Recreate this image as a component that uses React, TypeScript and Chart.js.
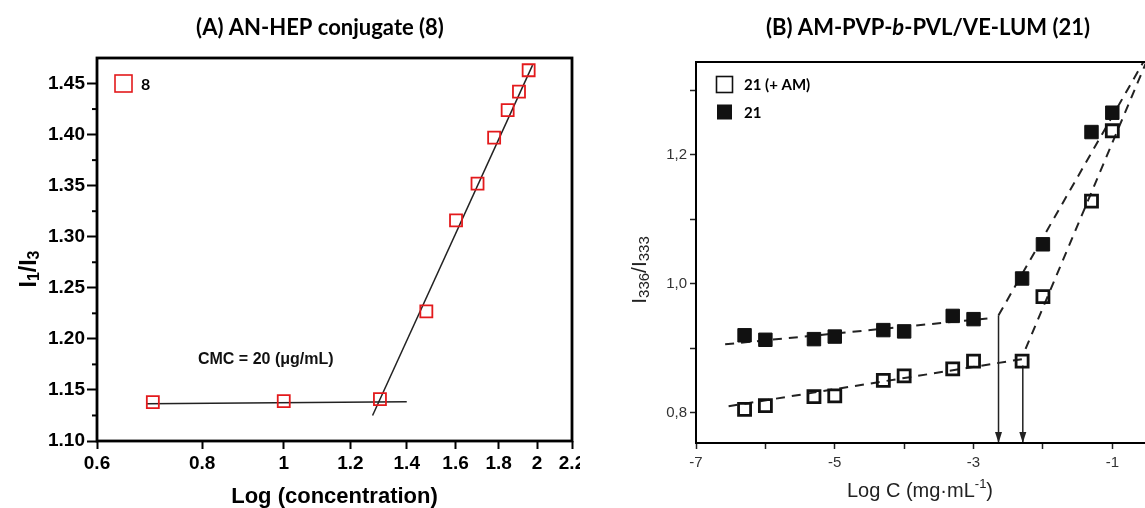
import React, { useEffect, useRef } from 'react';
import { Chart, registerables } from 'chart.js';

Chart.register(...registerables);

const ARIAL = '"Liberation Sans", Arial, sans-serif';
const CALIBRI = 'Lato, "Open Sans", sans-serif';

// ---------------- Panel A data ----------------
const aLogConc = [0.699, 1.0, 1.301, 1.477, 1.602, 1.699, 1.778, 1.845, 1.903, 1.954];
const aRatio = [1.138, 1.139, 1.141, 1.227, 1.316, 1.352, 1.397, 1.424, 1.442, 1.463];
const aFlatFitX = [0.688, 1.4];
const aFlatFitY = [1.1365, 1.1385];
const aSteepFitX = [1.275, 1.975];
const aSteepFitY = [1.125, 1.468];
const aXTicks = [0.6, 0.8, 1, 1.2, 1.4, 1.6, 1.8, 2, 2.2];
const aXLabels = ['0.6', '0.8', '1', '1.2', '1.4', '1.6', '1.8', '2', '2.2'];
const aYTicks = [1.1, 1.125, 1.15, 1.175, 1.2, 1.225, 1.25, 1.275, 1.3, 1.325, 1.35, 1.375, 1.4, 1.425, 1.45];
const aYLabels = ['1.10', '', '1.15', '', '1.20', '', '1.25', '', '1.30', '', '1.35', '', '1.40', '', '1.45'];
const aNote = { text: 'CMC = 20 (\u03bcg/mL)', x: 0.952, y: 1.18 };

// ---------------- Panel B data ----------------
const bLogC = [-6.3, -6, -5.3, -5, -4.3, -4, -3.3, -3, -2.3, -2, -1.3, -1];
const b21 = [0.92, 0.913, 0.914, 0.918, 0.928, 0.926, 0.95, 0.945, 1.008, 1.061, 1.235, 1.265];
const b21AM = [0.805, 0.811, 0.825, 0.826, 0.85, 0.857, 0.868, 0.88, 0.88, 0.98, 1.128, 1.237];
const b21LowFitX = [-6.58, -2.8];
const b21LowFitY = [0.906, 0.946];
const b21HighFitX = [-2.64, -0.55];
const b21HighFitY = [0.951, 1.344];
const bAMLowFitX = [-6.53, -2.3];
const bAMLowFitY = [0.81, 0.883];
const bAMHighFitX = [-2.25, -0.52];
const bAMHighFitY = [0.899, 1.341];
const bArrow1X = [-2.64, -2.64];
const bArrow1Y = [0.951, 0.753];
const bArrow2X = [-2.29, -2.29];
const bArrow2Y = [0.873, 0.753];
const bXTicks = [-7, -6, -5, -4, -3, -2, -1];
const bXLabels = ['-7', '', '-5', '', '-3', '', '-1'];
const bYTicks = [0.8, 0.9, 1.0, 1.1, 1.2, 1.3];
const bYLabels = ['0,8', '', '1,0', '', '1,2', ''];

const pts = (xs: number[], ys: number[]) => xs.map((x, i) => ({ x, y: ys[i] }));

type Part = { t: string; font: string; dy?: number };
function drawRich(ctx: CanvasRenderingContext2D, parts: Part[], x: number, y: number, color: string) {
  ctx.save();
  let w = 0;
  for (const p of parts) {
    ctx.font = p.font;
    w += ctx.measureText(p.t).width;
  }
  let cx = x - w / 2;
  ctx.textAlign = 'left';
  ctx.textBaseline = 'middle';
  ctx.fillStyle = color;
  for (const p of parts) {
    ctx.font = p.font;
    ctx.fillText(p.t, cx, y + (p.dy || 0));
    cx += ctx.measureText(p.t).width;
  }
  ctx.restore();
}

function drawRotated(ctx: CanvasRenderingContext2D, parts: Part[], x: number, y: number, color: string) {
  ctx.save();
  ctx.translate(x, y);
  ctx.rotate(-Math.PI / 2);
  drawRich(ctx, parts, 0, 0, color);
  ctx.restore();
}

const framePlugin = (lw: number) => ({
  id: 'frame',
  afterDraw(chart: any) {
    const { ctx, chartArea: a } = chart;
    ctx.save();
    ctx.strokeStyle = '#000';
    ctx.lineWidth = lw;
    ctx.strokeRect(a.left, a.top, a.right - a.left, a.bottom - a.top);
    ctx.restore();
  },
});

// short minor ticks on the A y axis (those with an empty label)
const minorTickPlugin = {
  id: 'minorTicksA',
  afterDraw(chart: any) {
    const { ctx, chartArea: a, scales } = chart;
    ctx.save();
    ctx.strokeStyle = '#000';
    ctx.lineWidth = 2;
    aYTicks.forEach((v, i) => {
      if (aYLabels[i] !== '') return;
      const y = scales.y.getPixelForValue(v);
      ctx.beginPath();
      ctx.moveTo(a.left - 5, y);
      ctx.lineTo(a.left, y);
      ctx.stroke();
    });
    ctx.restore();
  },
};

const legendPlugin = (items: { ds: number; dx: number; dy: number; side: number }[], textDx: number, font: string) => ({
  id: 'insideLegend',
  afterDraw(chart: any) {
    const { ctx, chartArea: a } = chart;
    ctx.save();
    for (const it of items) {
      const ds = chart.data.datasets[it.ds];
      const cx = a.left + it.dx;
      const cy = a.top + it.dy;
      const h = it.side / 2;
      const filled = ds.backgroundColor && ds.backgroundColor !== 'rgba(0,0,0,0)';
      if (filled) {
        ctx.fillStyle = ds.backgroundColor;
        ctx.fillRect(cx - h, cy - h, it.side, it.side);
      } else {
        ctx.strokeStyle = ds.borderColor;
        ctx.lineWidth = 1.6;
        ctx.strokeRect(cx - h, cy - h, it.side, it.side);
      }
      ctx.fillStyle = '#000';
      ctx.font = font;
      ctx.textAlign = 'left';
      ctx.textBaseline = 'middle';
      ctx.fillText(ds.label, a.left + textDx, cy + 1);
    }
    ctx.restore();
  },
});

const arrowPlugin = {
  id: 'arrowHeads',
  afterDatasetsDraw(chart: any) {
    const { ctx } = chart;
    chart.data.datasets.forEach((ds: any, i: number) => {
      if (!ds.arrow) return;
      const meta = chart.getDatasetMeta(i);
      const p = meta.data[meta.data.length - 1];
      ctx.save();
      ctx.fillStyle = '#222';
      ctx.beginPath();
      ctx.moveTo(p.x, p.y);
      ctx.lineTo(p.x - 3.5, p.y - 11);
      ctx.lineTo(p.x + 3.5, p.y - 11);
      ctx.closePath();
      ctx.fill();
      ctx.restore();
    });
  },
};

const baseOpts = {
  responsive: false,
  animation: false,
  devicePixelRatio: 1,
  events: [],
  plugins: { legend: { display: false }, tooltip: { enabled: false }, title: { display: false } },
};

function buildA(canvas: HTMLCanvasElement) {
  const textPlugin = {
    id: 'textsA',
    afterDraw(chart: any) {
      const { ctx, chartArea: a, scales } = chart;
      drawRich(ctx, [{ t: '(A) AN-HEP conjugate (8)', font: `bold 22px ${CALIBRI}` }], 320, 28, '#000');
      drawRotated(
        ctx,
        [
          { t: 'I', font: `bold 23px ${ARIAL}` },
          { t: '1', font: `bold 16px ${ARIAL}`, dy: 5 },
          { t: '/I', font: `bold 23px ${ARIAL}` },
          { t: '3', font: `bold 16px ${ARIAL}`, dy: 5 },
        ],
        30,
        269,
        '#000'
      );
      drawRich(ctx, [{ t: 'Log (concentration)', font: `bold 22px ${ARIAL}` }], (a.left + a.right) / 2, 497, '#000');
      const nx = scales.x.getPixelForValue(aNote.x);
      const ny = scales.y.getPixelForValue(aNote.y);
      drawRich(ctx, [{ t: aNote.text, font: `bold 16px ${ARIAL}` }], nx, ny, '#111');
    },
  };
  const red = '#e31a1c';
  return new Chart(canvas, {
    type: 'scatter',
    data: {
      datasets: [
        {
          label: '8',
          data: pts(aLogConc, aRatio),
          pointStyle: 'rect',
          pointRadius: 8.5,
          borderColor: red,
          backgroundColor: 'rgba(0,0,0,0)',
          borderWidth: 1.8,
          showLine: false,
        },
        {
          label: 'flat fit',
          data: pts(aFlatFitX, aFlatFitY),
          showLine: true,
          pointRadius: 0,
          borderColor: '#222',
          borderWidth: 1.5,
        },
        {
          label: 'steep fit',
          data: pts(aSteepFitX, aSteepFitY),
          showLine: true,
          pointRadius: 0,
          borderColor: '#222',
          borderWidth: 1.5,
        },
      ],
    },
    options: {
      ...baseOpts,
      layout: { padding: { left: 0, right: 28, top: 58, bottom: 0 } },
      scales: {
        x: {
          type: 'logarithmic',
          min: 0.6,
          max: 2.2,
          afterBuildTicks: (s: any) => {
            s.ticks = aXTicks.map((v) => ({ value: v }));
          },
          afterFit: (s: any) => {
            s.height = 67;
          },
          ticks: {
            autoSkip: false,
            maxRotation: 0,
            minRotation: 0,
            padding: 3,
            color: '#000',
            font: { family: ARIAL, size: 19, weight: 'bold' },
            callback: (_v: any, i: number) => aXLabels[i],
          },
          grid: { drawOnChartArea: false, drawTicks: true, tickLength: 8, tickWidth: 2, tickColor: '#000' },
          border: { display: false },
        },
        y: {
          type: 'linear',
          min: 1.1,
          max: 1.475,
          afterBuildTicks: (s: any) => {
            s.ticks = aYTicks.map((v) => ({ value: v }));
          },
          afterFit: (s: any) => {
            s.width = 97;
          },
          ticks: {
            autoSkip: false,
            padding: 2,
            color: '#000',
            font: { family: ARIAL, size: 19, weight: 'bold' },
            callback: (_v: any, i: number) => aYLabels[i],
          },
          grid: {
            drawOnChartArea: false,
            drawTicks: true,
            tickLength: 10,
            tickWidth: 2,
            tickColor: (c: any) => (aYLabels[c.index] === '' ? 'rgba(0,0,0,0)' : '#000'),
          },
          border: { display: false },
        },
      },
    },
    plugins: [
      framePlugin(2.8),
      minorTickPlugin,
      legendPlugin([{ ds: 0, dx: 26.5, dy: 25.5, side: 17 }], 44, `bold 16px ${CALIBRI}`),
      textPlugin,
    ],
  } as any);
}

function buildB(canvas: HTMLCanvasElement) {
  const textPlugin = {
    id: 'textsB',
    afterDraw(chart: any) {
      const { ctx } = chart;
      drawRich(
        ctx,
        [
          { t: '(B) AM-PVP-', font: `bold 22px ${CALIBRI}` },
          { t: 'b', font: `italic bold 22px ${CALIBRI}` },
          { t: '-PVL/VE-LUM (21)', font: `bold 22px ${CALIBRI}` },
        ],
        348,
        28,
        '#000'
      );
      drawRotated(
        ctx,
        [
          { t: 'I', font: `21px ${ARIAL}` },
          { t: '336', font: `15px ${ARIAL}`, dy: 5 },
          { t: '/I', font: `21px ${ARIAL}` },
          { t: '333', font: `15px ${ARIAL}`, dy: 5 },
        ],
        60,
        270,
        '#222'
      );
      drawRich(
        ctx,
        [
          { t: 'Log C (mg\u00b7mL', font: `20px ${ARIAL}` },
          { t: '-1', font: `13px ${ARIAL}`, dy: -7 },
          { t: ')', font: `20px ${ARIAL}` },
        ],
        340,
        491,
        '#222'
      );
    },
  };
  const dashed = { showLine: true, pointRadius: 0, borderColor: '#222', borderWidth: 2, borderDash: [9, 7] };
  const arrow = { showLine: true, pointRadius: 0, borderColor: '#222', borderWidth: 1.5, arrow: true };
  return new Chart(canvas, {
    type: 'scatter',
    data: {
      datasets: [
        {
          label: '21 (+ AM)',
          data: pts(bLogC, b21AM),
          pointStyle: 'rect',
          pointRadius: 8.5,
          borderColor: '#111',
          backgroundColor: 'rgba(0,0,0,0)',
          borderWidth: 2.8,
          showLine: false,
        },
        {
          label: '21',
          data: pts(bLogC, b21),
          pointStyle: 'rect',
          pointRadius: 9.5,
          borderColor: '#111',
          backgroundColor: '#111',
          borderWidth: 1,
          showLine: false,
        },
        { label: '21 low fit', data: pts(b21LowFitX, b21LowFitY), ...dashed },
        { label: '21 high fit', data: pts(b21HighFitX, b21HighFitY), ...dashed },
        { label: 'AM low fit', data: pts(bAMLowFitX, bAMLowFitY), ...dashed },
        { label: 'AM high fit', data: pts(bAMHighFitX, bAMHighFitY), ...dashed },
        { label: 'CMC 21', data: pts(bArrow1X, bArrow1Y), ...arrow },
        { label: 'CMC 21 (+ AM)', data: pts(bArrow2X, bArrow2Y), ...arrow },
      ],
    },
    options: {
      ...baseOpts,
      layout: { padding: { left: 0, right: 13, top: 62, bottom: 0 } },
      scales: {
        x: {
          type: 'linear',
          min: -7,
          max: -0.5,
          afterBuildTicks: (s: any) => {
            s.ticks = bXTicks.map((v) => ({ value: v }));
          },
          afterFit: (s: any) => {
            s.height = 65;
          },
          ticks: {
            autoSkip: false,
            maxRotation: 0,
            minRotation: 0,
            padding: 5,
            color: '#333',
            font: { family: ARIAL, size: 15 },
            callback: (_v: any, i: number) => bXLabels[i],
          },
          grid: { drawOnChartArea: false, drawTicks: true, tickLength: 6, tickWidth: 1.5, tickColor: '#222' },
          border: { display: false },
        },
        y: {
          type: 'linear',
          min: 0.753,
          max: 1.3436,
          afterBuildTicks: (s: any) => {
            s.ticks = bYTicks.map((v) => ({ value: v }));
          },
          afterFit: (s: any) => {
            s.width = 116;
          },
          ticks: {
            autoSkip: false,
            padding: 3,
            color: '#333',
            font: { family: ARIAL, size: 15 },
            callback: (_v: any, i: number) => bYLabels[i],
          },
          grid: { drawOnChartArea: false, drawTicks: true, tickLength: 6, tickWidth: 1.5, tickColor: '#222' },
          border: { display: false },
        },
      },
    },
    plugins: [
      framePlugin(2),
      arrowPlugin,
      legendPlugin(
        [
          { ds: 0, dx: 28.5, dy: 22.5, side: 16 },
          { ds: 1, dx: 28.5, dy: 50, side: 15 },
        ],
        48,
        `bold 15px ${CALIBRI}`
      ),
      textPlugin,
    ],
  } as any);
}

function Panel({ left, width, canvasWidth, build }: { left: number; width: number; canvasWidth: number; build: (c: HTMLCanvasElement) => Chart }) {
  const ref = useRef<HTMLCanvasElement>(null);
  useEffect(() => {
    if (!ref.current) return;
    const chart = build(ref.current);
    return () => chart.destroy();
  }, [build]);
  return (
    <div style={{ position: 'absolute', left, top: 0, width, height: 508, overflow: 'hidden' }}>
      <canvas ref={ref} width={canvasWidth} height={508} style={{ display: 'block', width: canvasWidth, height: 508 }} />
    </div>
  );
}

export default function App() {
  return (
    <div style={{ position: 'absolute', left: 0, top: 0, width: 1145, height: 508, overflow: 'hidden', background: '#fff' }}>
      <Panel left={0} width={580} canvasWidth={600} build={buildA} />
      <Panel left={580} width={565} canvasWidth={580} build={buildB} />
    </div>
  );
}
